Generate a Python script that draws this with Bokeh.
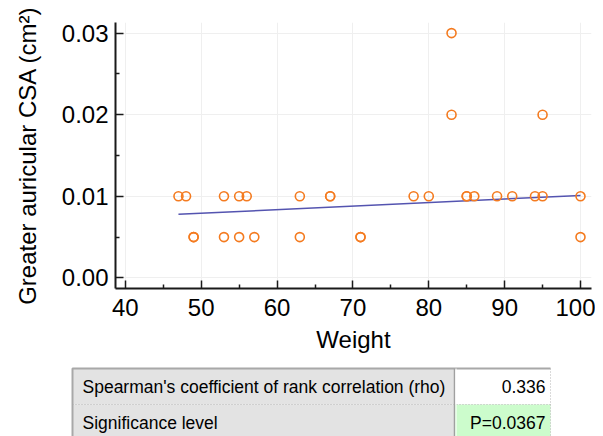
from bokeh.plotting import figure
from bokeh.models import Range1d, FixedTicker, PrintfTickFormatter, ColumnDataSource
from bokeh.layouts import column
from bokeh.embed import file_html
from bokeh.resources import INLINE
from bokeh.core.properties import value

# ---- data ----
weight = [47, 48, 53, 55, 56, 63, 67, 67, 78, 80, 85, 85, 86, 89, 91, 94, 95, 100,
          49, 49, 53, 55, 57, 63, 71, 71, 100,
          83, 95,
          83]
csa = [0.01] * 18 + [0.005] * 9 + [0.02, 0.02] + [0.03]

fit_weight = [47, 100]
fit_csa = [0.0078, 0.0101]

x_ticks = [40, 50, 60, 70, 80, 90, 100]
x_minor = [45, 55, 65, 75, 85, 95]
y_ticks = [0.0, 0.01, 0.02, 0.03]
y_minor = [0.005, 0.015, 0.025]

x_title = "Weight"
y_title = "Greater auricular CSA (cm\u00b2)"

table_labels = ["Spearman's coefficient of rank correlation (rho)", "Significance level"]
table_values = ["0.336", "P=0.0367"]
table_value_fill = ["#ffffff", "#ccfccc"]

FONT = "Liberation Sans"

# ---- main scatter plot ----
p = figure(width=595, height=366, output_backend="svg", toolbar_location=None,
           x_range=Range1d(38.7, 101.45), y_range=Range1d(-0.0013, 0.0313),
           min_border_left=115, min_border_right=4, min_border_top=22,
           min_border_bottom=78)
p.frame_align = False
p.outline_line_color = None
p.background_fill_color = "white"
p.border_fill_color = "white"

p.xaxis.ticker = FixedTicker(ticks=x_ticks, minor_ticks=x_minor)
p.yaxis.ticker = FixedTicker(ticks=y_ticks, minor_ticks=y_minor)
p.xgrid.ticker = FixedTicker(ticks=x_ticks)
p.ygrid.ticker = FixedTicker(ticks=y_ticks)
p.yaxis.formatter = PrintfTickFormatter(format="%.2f")
p.grid.grid_line_color = "#efefef"
p.grid.grid_line_width = 1

for ax in (p.xaxis, p.yaxis):
    ax.axis_line_width = 2
    ax.axis_line_color = "#1a1a1a"
    ax.major_tick_in = 8
    ax.major_tick_out = 0
    ax.minor_tick_in = 4
    ax.minor_tick_out = 0
    ax.major_tick_line_width = 1.5
    ax.minor_tick_line_width = 1.5
    ax.major_tick_line_color = "#1a1a1a"
    ax.minor_tick_line_color = "#1a1a1a"
    ax.major_label_text_font = FONT
    ax.major_label_text_font_size = "24px"
    ax.major_label_text_color = "black"
    ax.axis_label_text_font = FONT
    ax.axis_label_text_font_size = "24px"
    ax.axis_label_text_font_style = "normal"
    ax.axis_label_text_color = "black"

p.xaxis.axis_label = x_title
p.yaxis.axis_label = y_title
p.xaxis.major_label_standoff = 10
p.xaxis.axis_label_standoff = 7
p.yaxis.major_label_standoff = 7
p.yaxis.axis_label_standoff = 18

p.line(fit_weight, fit_csa, line_color="#5454B0", line_width=1.5)
p.scatter(weight, csa, marker="circle", size=9, fill_color=None,
          line_color="#F47B20", line_width=1.6)

# ---- results table ----
t = figure(width=595, height=70, output_backend="svg", toolbar_location=None,
           x_range=Range1d(0, 595), y_range=Range1d(70, 0),
           min_border=0, min_border_left=0, min_border_right=0,
           min_border_top=0, min_border_bottom=0)
t.frame_align = False
t.axis.visible = False
t.grid.visible = False
t.outline_line_color = None
t.background_fill_color = "white"
t.border_fill_color = "white"

n = len(table_labels)
row_top = [2 + 36 * i for i in range(n)]
row_bot = [2 + 36 * (i + 1) for i in range(n)]
row_mid = [(a + b) / 2 for a, b in zip(row_top, row_bot)]

src = ColumnDataSource(dict(top=row_top, bottom=row_bot, mid=row_mid,
                            label=table_labels, val=table_values,
                            vfill=table_value_fill))
t.quad(left=72, right=454, top="top", bottom="bottom", source=src,
       fill_color="#e3e3e3", line_color=None)
t.quad(left=454, right=550, top="top", bottom="bottom", source=src,
       fill_color="vfill", line_color=None)
# row separators (dotted)
t.segment(x0=72, x1=550, y0="bottom", y1="bottom", source=src,
          line_color="#b4b4b4", line_width=1, line_dash="1 2")
# outer border top/left
t.line([72, 72, 550], [74, 2, 2], line_color="#a8a8a8", line_width=2)
# column separator
t.line([454, 454], [2, 74], line_color="#a0a0a0", line_width=1.5)
t.line([455.5, 455.5], [2, 74], line_color="#ffffff", line_width=1)
# right edge dotted
t.line([550, 550], [2, 74], line_color="#b4b4b4", line_width=1, line_dash="1 2")

t.text(x=82, y="mid", text="label", source=src, text_font=value(FONT),
       text_font_size="17.5px", text_color="black", text_baseline="middle",
       text_align="left")
t.text(x=545, y="mid", text="val", source=src, text_font=value(FONT),
       text_font_size="17.5px", text_color="black", text_baseline="middle",
       text_align="right")

layout = column(p, t, spacing=0)
open("out.html", "w").write(file_html(layout, INLINE))
